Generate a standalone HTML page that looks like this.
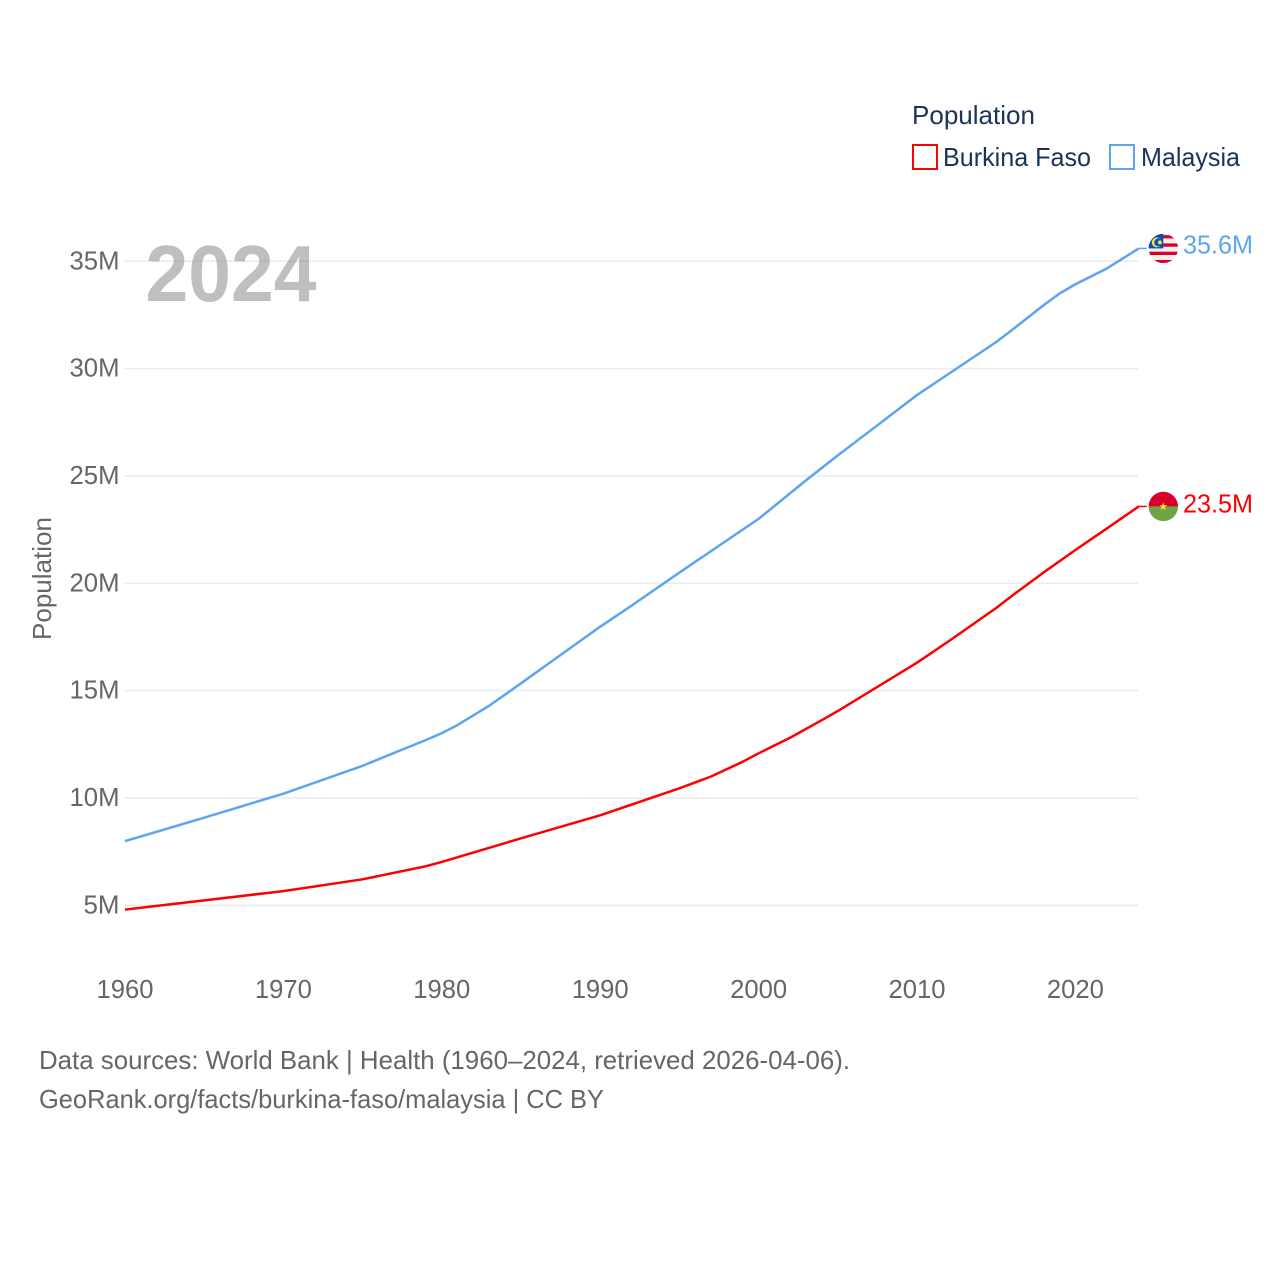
<!DOCTYPE html>
<html lang="en">
<head>
<meta charset="utf-8">
<title>Population: Burkina Faso and Malaysia</title>
<style>
html,body{margin:0;padding:0;background:#fff;width:1280px;height:1280px;overflow:hidden}
svg{display:block}
text{font-family:"Liberation Sans",sans-serif}
</style>
</head>
<body>
<svg id="chart" width="1280" height="1280" viewBox="0 0 1280 1280" xmlns="http://www.w3.org/2000/svg">
  <defs>
    <clipPath id="flag-clip-my"><circle cx="0" cy="0" r="14.7"/></clipPath>
    <clipPath id="flag-clip-bf"><circle cx="0" cy="0" r="14.7"/></clipPath>
  </defs>
  <g id="grid"></g>
  <g id="yticks"></g>
  <g id="xticks"></g>
  <text x="145.5" y="301" font-size="80" font-weight="700" fill="#808080" fill-opacity="0.5" textLength="171" lengthAdjust="spacingAndGlyphs">2024</text>
  <text transform="translate(51,640) rotate(-90)" font-size="26" fill="#666" textLength="123" lengthAdjust="spacingAndGlyphs">Population</text>
  <g id="series"></g>
  <g id="flag-my">
    <g clip-path="url(#flag-clip-my)">
      <rect x="-15" y="-15" width="30" height="30" fill="#f0f0f0"/>
      <rect x="-15" y="-13.3" width="30" height="3.3" fill="#d80027"/>
      <rect x="-15" y="-5" width="30" height="3.3" fill="#d80027"/>
      <rect x="-15" y="3.3" width="30" height="3.3" fill="#d80027"/>
      <rect x="-15" y="11.6" width="30" height="3.4" fill="#d80027"/>
      <rect x="-15" y="-15" width="15" height="15" fill="#0052b4"/>
      <circle cx="-6.5" cy="-6" r="5" fill="#ffda44"/>
      <circle cx="-5" cy="-6" r="4" fill="#0052b4"/>
      <circle cx="-3.4" cy="-6" r="2" fill="#ffda44"/>
    </g>
  </g>
  <g id="flag-bf">
    <g clip-path="url(#flag-clip-bf)">
      <rect x="-15" y="-15" width="30" height="15" fill="#d80027"/>
      <rect x="-15" y="0" width="30" height="15" fill="#6da544"/>
      <polygon points="0,-4 1.1,-1.2 4,-1.2 1.7,0.6 2.6,3.5 0,1.8 -2.6,3.5 -1.7,0.6 -4,-1.2 -1.1,-1.2" fill="#ffda44"/>
    </g>
  </g>
  <text id="label-my" x="1183" font-size="26" fill="#5da5ee" textLength="70" lengthAdjust="spacingAndGlyphs"></text>
  <text id="label-bf" x="1183" font-size="26" fill="#ff0000" textLength="70" lengthAdjust="spacingAndGlyphs"></text>
  <g>
    <text x="912" y="124" font-size="26" fill="#1b3358" textLength="123" lengthAdjust="spacingAndGlyphs">Population</text>
    <g>
      <rect x="913" y="145" width="24" height="24" fill="#fff" stroke="#ff0000" stroke-width="2"/>
      <text x="943" y="166" font-size="26" fill="#1b3358" textLength="148" lengthAdjust="spacingAndGlyphs">Burkina Faso</text>
    </g>
    <g>
      <rect x="1110" y="145" width="24" height="24" fill="#fff" stroke="#5da5ee" stroke-width="2"/>
      <text x="1141" y="166" font-size="26" fill="#1b3358" textLength="99" lengthAdjust="spacingAndGlyphs">Malaysia</text>
    </g>
  </g>
  <g>
    <text x="39" y="1069" font-size="26" fill="#666" textLength="811" lengthAdjust="spacingAndGlyphs">Data sources: World Bank | Health (1960–2024, retrieved 2026-04-06).</text>
    <text x="39" y="1108" font-size="26" fill="#666" textLength="565" lengthAdjust="spacingAndGlyphs">GeoRank.org/facts/burkina-faso/malaysia | CC BY</text>
  </g>
</svg>
<script>
const years = [1960, 1965, 1970, 1975, 1979, 1980, 1981, 1983, 1985, 1987, 1990, 1992, 1995, 2000, 2003, 2005, 2007, 2008, 2010, 2013, 2015, 2016, 2018, 2019, 2020, 2022, 2024];
const malaysia = [7.99, 9.08, 10.2, 11.5, 12.7, 13.02, 13.4, 14.3, 15.34, 16.4, 17.98, 18.97, 20.5, 23.0, 24.8, 25.96, 27.08, 27.64, 28.77, 30.25, 31.24, 31.8, 32.96, 33.5, 33.93, 34.67, 35.6];
const burkinaYears = [1960, 1965, 1970, 1975, 1979, 1980, 1985, 1990, 1995, 1997, 1999, 2000, 2002, 2004, 2005, 2010, 2012, 2014, 2015, 2016, 2018, 2020, 2022, 2024];
const burkina = [4.8, 5.23, 5.66, 6.21, 6.82, 7.02, 8.12, 9.19, 10.45, 11.0, 11.69, 12.08, 12.81, 13.63, 14.05, 16.3, 17.3, 18.33, 18.85, 19.42, 20.51, 21.55, 22.56, 23.58];
const yTickValues = [5, 10, 15, 20, 25, 30, 35];
const yTickLabels = ["5M", "10M", "15M", "20M", "25M", "30M", "35M"];
const xTickValues = [1960, 1970, 1980, 1990, 2000, 2010, 2020];
const endLabelMalaysia = "35.6M";
const endLabelBurkina = "23.5M";

const NS = 'http://www.w3.org/2000/svg';
function xScale(year) { return 125 + (year - 1960) * 15.84; }
function yScale(v) { return 905.3 - (v - 5) * 21.467; }
function linePath(xs, vs) {
  return xs.map(function (yr, i) {
    return (i ? 'L' : 'M') + xScale(yr).toFixed(2) + ' ' + yScale(vs[i]).toFixed(2);
  }).join(' ');
}

const gridG = document.getElementById('grid');
const yG = document.getElementById('yticks');
yTickValues.forEach(function (v, i) {
  const ln = document.createElementNS(NS, 'line');
  ln.setAttribute('x1', 125);
  ln.setAttribute('x2', 1138);
  ln.setAttribute('y1', yScale(v));
  ln.setAttribute('y2', yScale(v));
  ln.setAttribute('stroke', '#ebebeb');
  ln.setAttribute('stroke-width', '1.5');
  
  
  gridG.appendChild(ln);

  const t = document.createElementNS(NS, 'text');
  t.setAttribute('x', 119.5);
  t.setAttribute('y', yScale(v) + 8);
  t.setAttribute('text-anchor', 'end');
  t.setAttribute('font-size', '26');
  t.setAttribute('fill', '#666');
  t.setAttribute('textLength', yTickLabels[i].length === 2 ? 36 : 50);
  t.setAttribute('lengthAdjust', 'spacingAndGlyphs');
  
  
  t.textContent = yTickLabels[i];
  yG.appendChild(t);
});

const xG = document.getElementById('xticks');
xTickValues.forEach(function (yr) {
  const t = document.createElementNS(NS, 'text');
  t.setAttribute('x', xScale(yr));
  t.setAttribute('y', 998);
  t.setAttribute('text-anchor', 'middle');
  t.setAttribute('font-size', '26');
  t.setAttribute('fill', '#666');
  t.setAttribute('textLength', 57);
  t.setAttribute('lengthAdjust', 'spacingAndGlyphs');
  
  
  t.textContent = String(yr);
  xG.appendChild(t);
});

const seriesG = document.getElementById('series');
const lineBurkina = document.createElementNS(NS, 'path');
lineBurkina.setAttribute('d', linePath(burkinaYears, burkina));
lineBurkina.setAttribute('fill', 'none');
lineBurkina.setAttribute('stroke', '#ff0000');
lineBurkina.setAttribute('stroke-width', '2.5');
lineBurkina.setAttribute('stroke-linejoin', 'round');


seriesG.appendChild(lineBurkina);

const lineMalaysia = document.createElementNS(NS, 'path');
lineMalaysia.setAttribute('d', linePath(years, malaysia));
lineMalaysia.setAttribute('fill', 'none');
lineMalaysia.setAttribute('stroke', '#5da5ee');
lineMalaysia.setAttribute('stroke-width', '2.5');
lineMalaysia.setAttribute('stroke-linejoin', 'round');


seriesG.appendChild(lineMalaysia);

const lastX = xScale(2024);
const yMy = yScale(malaysia[malaysia.length - 1]);
const yBf = yScale(burkina[burkina.length - 1]);

const stubMy = document.createElementNS(NS, 'line');
stubMy.setAttribute('x1', lastX);
stubMy.setAttribute('x2', lastX + 8);
stubMy.setAttribute('y1', yMy);
stubMy.setAttribute('y2', yMy);
stubMy.setAttribute('stroke', '#5da5ee');
stubMy.setAttribute('stroke-width', '1.5');


seriesG.appendChild(stubMy);

const stubBf = document.createElementNS(NS, 'line');
stubBf.setAttribute('x1', lastX);
stubBf.setAttribute('x2', lastX + 8);
stubBf.setAttribute('y1', yBf);
stubBf.setAttribute('y2', yBf);
stubBf.setAttribute('stroke', '#ff0000');
stubBf.setAttribute('stroke-width', '1.5');


seriesG.appendChild(stubBf);

document.getElementById('flag-my').setAttribute('transform', 'translate(1163.3,' + yMy + ')');
document.getElementById('flag-bf').setAttribute('transform', 'translate(1163.3,' + yBf + ')');

const labelMy = document.getElementById('label-my');
labelMy.setAttribute('y', yMy + 5);
labelMy.textContent = endLabelMalaysia;
const labelBf = document.getElementById('label-bf');
labelBf.setAttribute('y', yBf + 6);
labelBf.textContent = endLabelBurkina;
</script>
</body>
</html>
